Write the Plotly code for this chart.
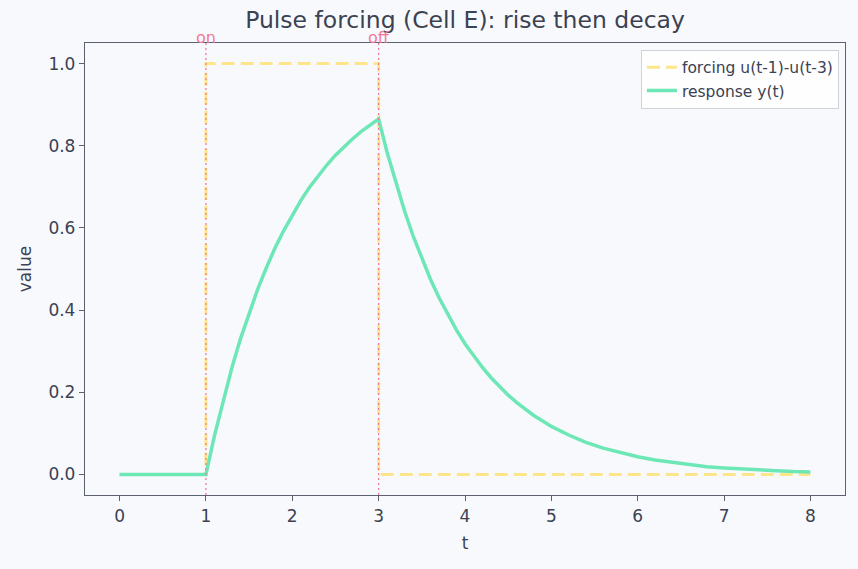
import plotly.graph_objects as go

# ---- data ----
t_forcing = [0, 1, 1, 3, 3, 8]
u_forcing = [0, 0, 1, 1, 0, 0]

t_resp = [0, 1.0, 1.1, 1.2, 1.3, 1.4, 1.5, 1.6, 1.7, 1.8, 1.9, 2.0,
          2.1, 2.2, 2.3, 2.4, 2.5, 2.6, 2.7, 2.8, 2.9, 3.0,
          3.1, 3.2, 3.3, 3.4, 3.5, 3.6, 3.7, 3.8, 3.9, 4.0,
          4.1, 4.2, 4.3, 4.4, 4.5, 4.6, 4.7, 4.8, 4.9, 5.0,
          5.2, 5.4, 5.6, 5.8, 6.0, 6.2, 6.4, 6.6, 6.8, 7.0,
          7.2, 7.4, 7.6, 7.8, 8.0]
y_resp = [0, 0, 0.095, 0.181, 0.259, 0.330, 0.393, 0.451, 0.503, 0.551, 0.593, 0.632,
          0.667, 0.699, 0.727, 0.753, 0.777, 0.798, 0.817, 0.835, 0.850, 0.865,
          0.782, 0.708, 0.641, 0.580, 0.525, 0.475, 0.430, 0.389, 0.352, 0.318,
          0.288, 0.261, 0.236, 0.213, 0.193, 0.175, 0.158, 0.143, 0.130, 0.117,
          0.096, 0.078, 0.064, 0.053, 0.043, 0.035, 0.029, 0.024, 0.019, 0.016,
          0.013, 0.011, 0.009, 0.007, 0.006]

events_t = [1, 3]
events_label = ["on", "off"]

x_ticks = [0, 1, 2, 3, 4, 5, 6, 7, 8]
y_ticks = [0.0, 0.2, 0.4, 0.6, 0.8, 1.0]
y_ticklabels = ["0.0", "0.2", "0.4", "0.6", "0.8", "1.0"]

# ---- styling ----
BG = "#f8f9fd"
TEXT = "#3b4252"
SPINE = "#5b6170"
GREEN = "#6ee7b7"
YELLOW = "#fde68a"
ROSE = "#f07a96"
FONT = "DejaVu Sans"

fig = go.Figure()

fig.add_trace(go.Scatter(
    x=t_forcing, y=u_forcing, mode="lines", name="forcing u(t-1)-u(t-3)",
    line=dict(color=YELLOW, width=3, dash="13px,6px"),
))
fig.add_trace(go.Scatter(
    x=t_resp, y=y_resp, mode="lines", name="response y(t)",
    line=dict(color=GREEN, width=3.5),
))

for tx, lab in zip(events_t, events_label):
    fig.add_shape(type="line", xref="x", yref="paper", x0=tx, x1=tx, y0=0, y1=1,
                  line=dict(color=ROSE, width=1.3, dash="2px,3px"), layer="above")
    fig.add_annotation(x=tx, y=1, xref="x", yref="paper", text=lab, showarrow=False,
                       xanchor="center", yanchor="bottom", yshift=-6,
                       font=dict(color=ROSE, size=16, family=FONT))

axis_common = dict(
    showgrid=False, zeroline=False, showline=True, linecolor=SPINE, linewidth=1.3,
    mirror=True, ticks="outside", ticklen=5, tickwidth=1.2, tickcolor=SPINE,
    tickfont=dict(size=17, color=TEXT, family=FONT),
)

fig.update_xaxes(range=[-0.4, 8.4], tickmode="array", tickvals=x_ticks,
                 title=dict(text="t", font=dict(size=17, color=TEXT, family=FONT), standoff=12),
                 **axis_common)
fig.update_yaxes(range=[-0.05, 1.05], tickmode="array", tickvals=y_ticks, ticktext=y_ticklabels,
                 title=dict(text="value", font=dict(size=17, color=TEXT, family=FONT), standoff=12),
                 **axis_common)

fig.update_layout(
    width=858, height=569,
    paper_bgcolor=BG, plot_bgcolor=BG,
    margin=dict(l=85, r=13, t=43, b=74),
    font=dict(family=FONT, color=TEXT),
    title=dict(text="Pulse forcing (Cell E): rise then decay", x=0.542,
               xanchor="center", y=0.965, yanchor="middle",
               font=dict(size=23.5, color=TEXT, family=FONT)),
    legend=dict(x=0.992, y=0.985, xanchor="right", yanchor="top",
                bgcolor="rgba(255,255,255,0.8)", bordercolor="#d0d3da", borderwidth=1,
                font=dict(size=15.5, color=TEXT, family=FONT), tracegroupgap=0,
                itemwidth=30),
    showlegend=True,
)

fig.write_html("out.html")
